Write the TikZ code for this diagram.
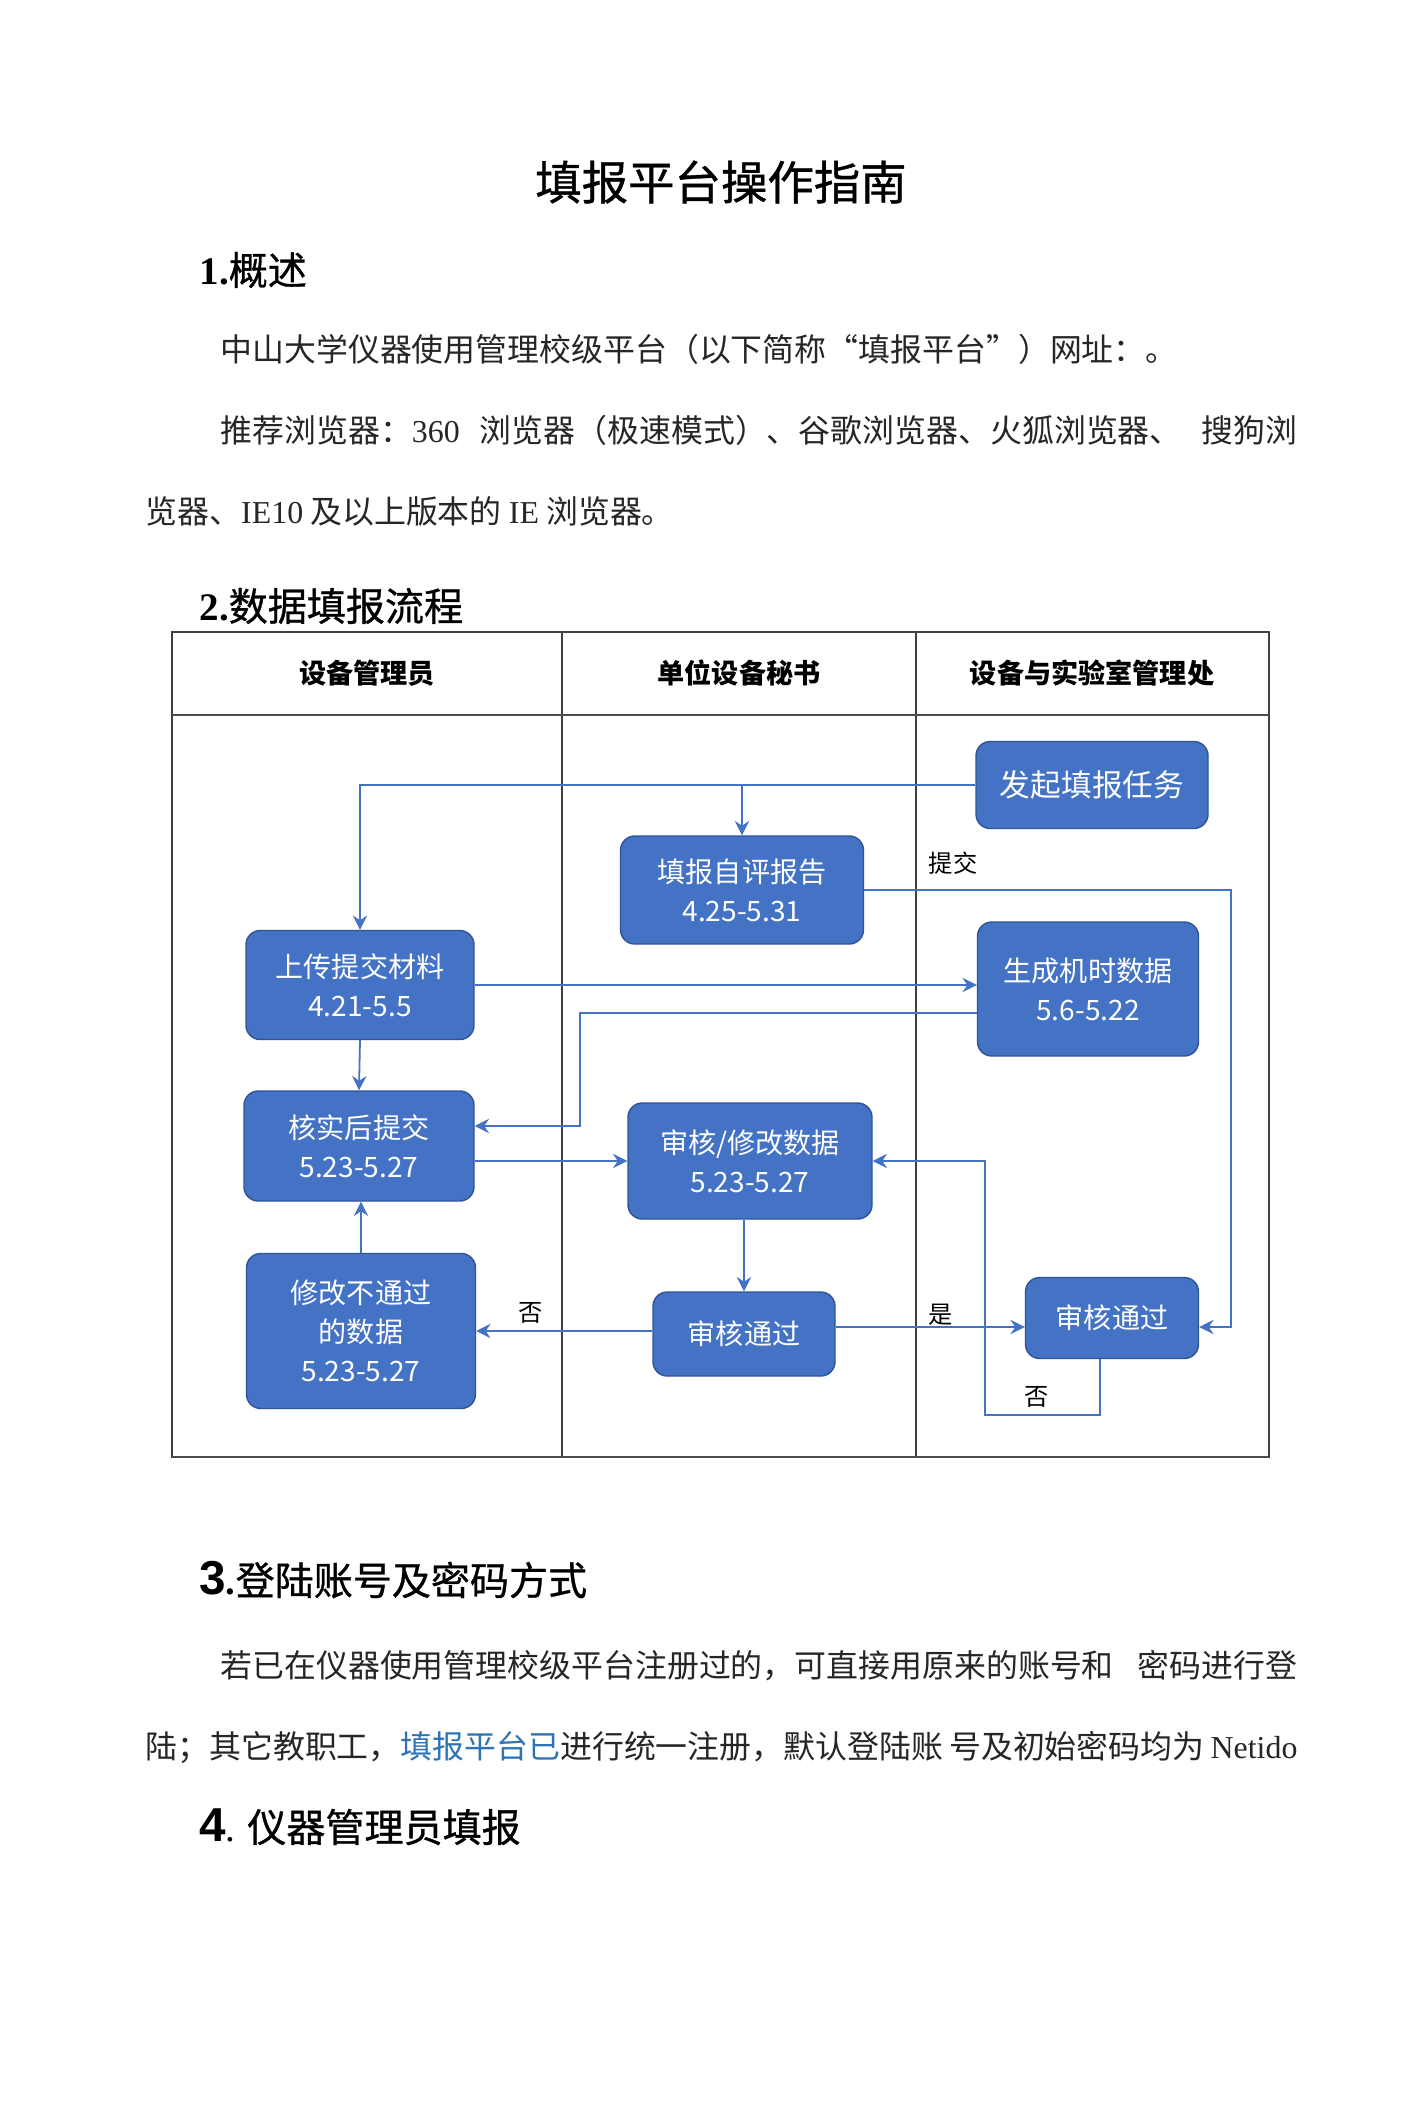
\documentclass[tikz,border=0pt]{standalone}
\usepackage{fontspec}
\setmainfont{Liberation Serif}
\newfontfamily\cjk{Noto Sans CJK SC}
\newfontfamily\cjkm{Noto Sans CJK SC}[FakeBold=0.8]
\newfontfamily\arialf{Liberation Sans}
\usetikzlibrary{calc,arrows.meta}
\definecolor{boxblue}{HTML}{4472C4}
\definecolor{boxedge}{HTML}{2F5597}
\definecolor{linkblue}{HTML}{2E74B5}
\newlength\pxu
\setlength\pxu{0.42pt}
\XeTeXlinebreaklocale "zh"
\XeTeXlinebreakskip=0pt plus 1pt minus 0.6pt

\begin{document}
\begin{tikzpicture}[x=0.42pt,y=-0.42pt,
  flow/.style={draw=boxblue,line width=0.75pt,-{Stealth[length=6pt,width=6pt,inset=2pt]}},
  task/.style={fill=boxblue,draw=boxedge,line width=0.6pt,rounded corners=6pt,
    text=white,align=center,inner sep=0pt,font=\cjk\fontsize{11.8}{16.4}\selectfont},
  lane/.style={font=\cjk\bfseries\fontsize{11.4}{14}\selectfont},
  note/.style={font=\cjk\fontsize{10.2}{12}\selectfont},
  body/.style={anchor=west,inner sep=0pt,text=black!85,font=\cjk\fontsize{13.4}{16}\selectfont},
  head/.style={anchor=west,inner sep=0pt,font=\cjkm\fontsize{16.4}{19}\selectfont}]
  \fill[white] (0,0) rectangle (1413,2112);
  \node[font=\cjkm\fontsize{19.5}{22}\selectfont] (ttl) at (721,182) {填报平台操作指南};
  \node[head] (h1) at (199,270) {{\rmfamily\bfseries 1.}概述};
  \node[body] (p1) at (220,349) {中山大学仪器使用管理校级平台（以下简称“填报平台”）网址：。};
  \node[body] (p2) at (220,430) {\hbox to 1077\pxu{推荐浏览器：{\rmfamily 360} 浏览器（极速模式）、谷歌浏览器、火狐浏览器、 搜狗浏}};
  \node[body] (p3) at (145,511) {览器、{\rmfamily IE10} 及以上版本的 {\rmfamily IE} 浏览器。};
  \node[head] (h2) at (199,606) {{\rmfamily\bfseries 2.}数据填报流程};

  \draw[black!75,line width=0.5pt] (172,632) rectangle (1269,1457);
  \draw[black!75,line width=0.5pt] (562,632) -- (562,1457) (916,632) -- (916,1457);
  \draw[black!70,line width=0.9pt] (172,715) -- (1269,715) (172,1457) -- (1269,1457);
  \node[lane] (l1) at (367,673) {设备管理员};
  \node[lane] (l2) at (739,673) {单位设备秘书};
  \node[lane] (l3) at (1092,673) {设备与实验室管理处};

  \node[task,minimum width=232\pxu,minimum height=87\pxu,font=\cjk\fontsize{12.9}{16}\selectfont] (fq) at (1092,785) {发起填报任务};
  \node[task,minimum width=243\pxu,minimum height=108\pxu] (zp) at (742,890) {填报自评报告\\4.25-5.31};
  \node[task,minimum width=228\pxu,minimum height=109\pxu] (sc) at (360,985) {上传提交材料\\4.21-5.5};
  \node[task,minimum width=221\pxu,minimum height=134\pxu] (sj) at (1088,989) {生成机时数据\\5.6-5.22};
  \node[task,minimum width=230\pxu,minimum height=110\pxu] (hs) at (359,1146) {核实后提交\\5.23-5.27};
  \node[task,minimum width=244\pxu,minimum height=116\pxu] (sx) at (750,1161) {审核/修改数据\\5.23-5.27};
  \node[task,minimum width=229\pxu,minimum height=155\pxu] (xg) at (361,1331) {修改不通过\\的数据\\5.23-5.27};
  \node[task,minimum width=182\pxu,minimum height=84\pxu] (tg1) at (744,1334) {审核通过};
  \node[task,minimum width=173\pxu,minimum height=81\pxu] (tg2) at (1112,1318) {审核通过};

  \coordinate (rgt) at (1231,890);
  \coordinate (ym) at (0,1327);
  \coordinate (mk) at (580,1013);
  \coordinate (mk2) at (580,1126);
  \coordinate (lp) at (1100,1415);
  \coordinate (lpl) at (985,1415);
  \draw[flow] (fq.west) -| (sc.north);
  \draw[flow] (fq.west -| zp.north) -- (zp.north);
  \draw[flow] (zp.east) -- (rgt) |- (tg2.east |- ym);
  \draw[flow] (sc.east) -- (sc.east -| sj.west);
  \draw[flow] (sj.west |- mk) -- (mk) -- (mk2) -- (hs.east |- mk2);
  \draw[flow] (sc.south) -- (hs.north);
  \draw[flow] (sx.west -| hs.east) -- (sx.west);
  \draw[flow] (xg.north) -- (xg.north |- hs.south);
  \draw[flow] (tg1.north |- sx.south) -- (tg1.north);
  \draw[flow] (xg.east -| tg1.west) -- (xg.east);
  \draw[flow] (tg1.east |- ym) -- (tg2.west |- ym);
  \draw[flow] (tg2.south -| lp) -- (lp) -- (lpl) |- (sx.east);
  \node[note] (tj) at (953,863) {提交};
  \node[note] (f1) at (531,1313) {否};
  \node[note] (sh) at (941,1315) {是};
  \node[note] (f2) at (1037,1397) {否};

  \node[head] (h3) at (199,1580) {{\arialf\bfseries\fontsize{20}{22}\selectfont 3}{\rmfamily\bfseries .}登陆账号及密码方式};
  \node[body] (p4) at (220,1666) {\hbox to 1077\pxu{若已在仪器使用管理校级平台注册过的，可直接用原来的账号和 密码进行登}};
  \node[body] (p5) at (145,1747) {\hbox to 1152\pxu{陆；其它教职工，\textcolor{linkblue}{填报平台已}进行统一注册，默认登陆账 号及初始密码均为 {\rmfamily Netido}}};
  \node[head] (h4) at (199,1827) {{\arialf\bfseries\fontsize{20}{22}\selectfont 4}{\rmfamily .} 仪器管理员填报};
\end{tikzpicture}
\end{document}
